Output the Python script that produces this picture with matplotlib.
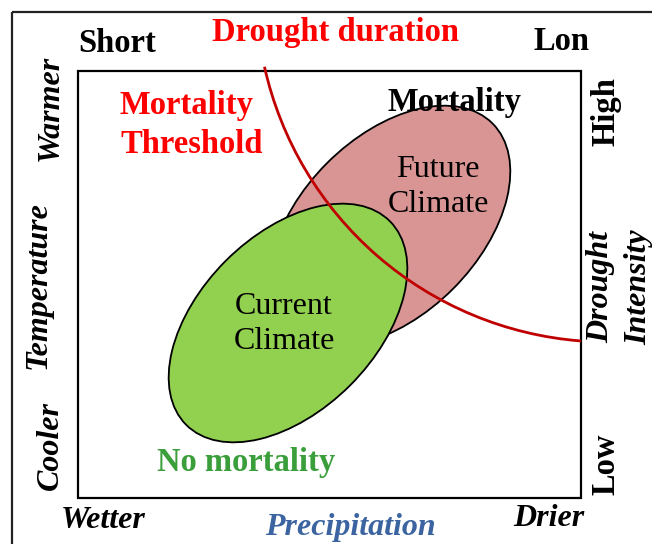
import numpy as np
import matplotlib
matplotlib.use("Agg")
import matplotlib.pyplot as plt
from matplotlib.patches import Ellipse, Arc, Rectangle

plt.rcParams['font.family'] = ['Liberation Serif', 'DejaVu Serif']

# climate envelopes (pixel space, y downwards): centre, width, height, angle
climate_names = ["Future\nClimate", "Current\nClimate"]
climate_centres = [(390, 226), (288, 323)]
climate_sizes = [(290, 178), (288, 176)]
climate_angles = [-45, -45]
climate_colors = ["#D99594", "#92D050"]
climate_label_pos = [(438, 187), (284, 324)]

# mortality threshold: circular arc
thresh_centre = (608, -10)
thresh_radius = 352
thresh_theta = (94.4, 167.4)

fig = plt.figure(figsize=(6.52, 5.44), dpi=100)
ax = fig.add_axes([0, 0, 1, 1])
ax.set_xlim(0, 652)
ax.set_ylim(544, 0)
ax.axis('off')

# frames
ax.add_patch(Rectangle((12, 12), 700, 600, fill=False, ec='#222222', lw=1.6))
ax.add_patch(Rectangle((78, 71), 503, 427, fill=False, ec='black', lw=1.6, zorder=1))

for i in range(len(climate_names)):
    e = Ellipse(climate_centres[i], climate_sizes[i][0], climate_sizes[i][1],
                angle=climate_angles[i], fc=climate_colors[i], ec='black', lw=1.3, zorder=2 + i)
    ax.add_patch(e)
    ax.text(climate_label_pos[i][0], climate_label_pos[i][1], climate_names[i], ha='center', va='center',
            fontsize=23, linespacing=1.3, zorder=5)

ax.add_patch(Arc(thresh_centre, 2 * thresh_radius, 2 * thresh_radius, theta1=thresh_theta[0],
                 theta2=thresh_theta[1], color='#C00000', lw=2.0, zorder=6))

bold = dict(fontsize=23.5, fontweight='bold', ha='center', va='center', zorder=7)
bi = dict(fontsize=23, fontweight='bold', fontstyle='italic', ha='center', va='center', zorder=7)

ax.text(117, 44, "Short", **bold)
ax.text(336, 32, "Drought duration", color='#FF0000', **bold)
ax.text(562, 41, "Lon", **bold)
ax.text(120, 125, "Mortality\nThreshold", color='#FF0000', fontsize=23.5, fontweight='bold',
        ha='left', va='center', linespacing=1.3, zorder=7)
ax.text(455, 103, "Mortality", **bold)
ax.text(246, 462, "No mortality", color='#3A9E3A', **bold)

ax.text(50, 108, "Warmer", rotation=90, **bi)
ax.text(38, 285, "Temperature", rotation=90, **bi)
ax.text(50, 446, "Cooler", rotation=90, **bi)
ax.text(103, 520, "Wetter", **bi)
ax.text(350, 527, "Precipitation", color='#3B64A0', **bi)
ax.text(549, 518, "Drier", **bi)

ax.text(606, 112, "High", rotation=90, **bold)
ax.text(620, 287, "Drought\nIntensity", rotation=90, linespacing=1.4, **bi)
ax.text(606, 464, "Low", rotation=90, **bold)

fig.savefig("out.png", dpi=100)
